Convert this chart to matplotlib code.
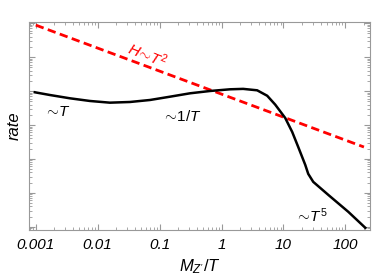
import numpy as np
import matplotlib
matplotlib.use('Agg')
from matplotlib import pyplot as plt
from matplotlib.ticker import LogLocator, NullFormatter, FixedLocator

# values (log10 of x, log10 of rate)
black_logx = [-3.016, -2.773, -2.450, -2.126, -1.803, -1.479, -1.155, -0.832,
              -0.508, -0.184, 0.139, 0.350, 0.576, 0.738, 0.867, 1.029,
              1.142, 1.239, 1.353, 1.401, 1.482, 1.725, 2.049, 2.324]
black_logy = [3.962, 3.882, 3.785, 3.706, 3.656, 3.676, 3.735, 3.832,
              3.932, 4.000, 4.050, 4.062, 4.020, 3.860, 3.600, 3.206,
              2.794, 2.353, 1.824, 1.560, 1.324, 0.941, 0.441, -0.03]
red_x = [0.001, 200.0]
red_y = [8.7e5, 224.0]
xtick_vals = [0.001, 0.01, 0.1, 1, 10, 100]
xtick_labels = ['0.001', '0.01', '0.1', '1', '10', '100']

plt.rcParams['font.family'] = ['Liberation Sans', 'DejaVu Sans']
plt.rcParams['mathtext.fontset'] = 'custom'
plt.rcParams['mathtext.rm'] = 'Liberation Sans'
plt.rcParams['mathtext.it'] = 'Liberation Sans:italic'

fig = plt.figure(figsize=(3.74, 2.79), dpi=100)
ax = fig.add_axes([0.0775, 0.176, 0.912, 0.745])

bx = 10 ** np.array(black_logx)
by = 10 ** np.array(black_logy)
ax.plot(red_x, red_y, color='red', lw=2, dashes=(3, 1.6))
ax.plot(bx, by, color='black', lw=1.8, solid_joinstyle='round')

ax.set_xscale('log')
ax.set_yscale('log')
ax.set_xlim(10 ** -3.11, 10 ** 2.40)
ax.set_ylim(10 ** -0.09, 10 ** 6.03)

ax.set_xticks(xtick_vals)
ax.set_xticklabels(xtick_labels)
for lab in ax.get_xticklabels():
    lab.set_fontstyle('italic')
    lab.set_fontsize(11)
ax.xaxis.set_minor_locator(LogLocator(base=10, subs=np.arange(2, 10)))
ax.xaxis.set_minor_formatter(NullFormatter())
ax.yaxis.set_major_locator(FixedLocator([10.0 ** k for k in range(0, 7)]))
ax.yaxis.set_minor_locator(LogLocator(base=10, subs=np.arange(2, 10), numticks=20))
ax.yaxis.set_major_formatter(NullFormatter())
ax.yaxis.set_minor_formatter(NullFormatter())

ax.tick_params(which='both', direction='in', top=True, right=True,
               color='#999999')
ax.tick_params(which='major', length=4, width=0.8)
ax.tick_params(which='minor', length=2, width=0.6)
ax.tick_params(axis='x', pad=6)
for s in ax.spines.values():
    s.set_color('#999999')
    s.set_linewidth(0.8)

ax.set_xlabel(r"$\mathit{M_{Z'}/T}$", fontsize=12, labelpad=4)
ax.set_ylabel('rate', fontsize=12, style='italic', labelpad=2)

ax.text(0.00135, 10 ** 3.26, r'$\sim\!\mathit{T}$', fontsize=11)
ax.text(0.11, 10 ** 3.12, r'$\sim\!\mathit{1/T}$', fontsize=11)
ax.text(15.5, 10 ** 0.15, r'$\sim\!\mathit{T^5}$', fontsize=11)
ax.text(0.065, 10 ** 5.06, r'$\mathit{H\!\sim\!T^2}$', fontsize=11,
        color='red', rotation=-22, ha='center', va='center')

fig.savefig('out.png', dpi=100)
